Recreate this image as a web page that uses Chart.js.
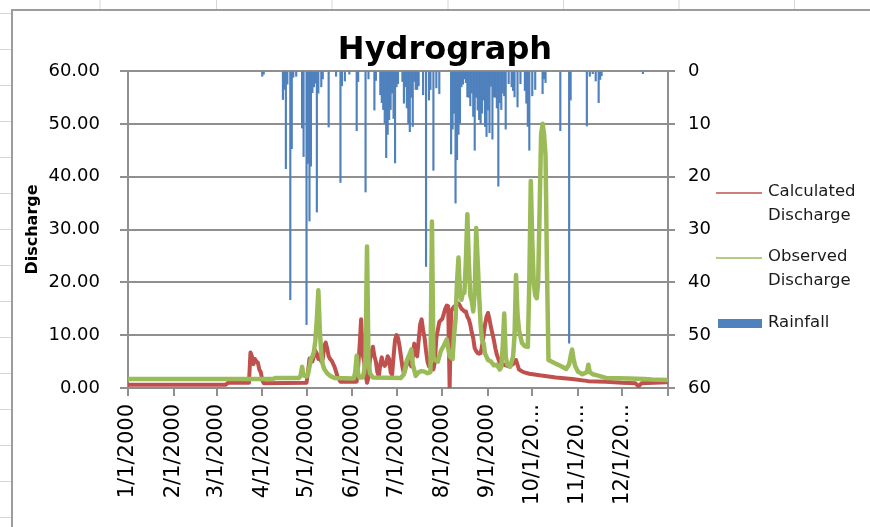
<!DOCTYPE html>
<html>
<head>
<meta charset="utf-8">
<title>Hydrograph</title>
<script src="https://cdn.jsdelivr.net/npm/chart.js@4.4.1/dist/chart.umd.min.js"></script>
<style>
  html, body { margin: 0; padding: 0; background: #ffffff; }
  #wrap { width: 870px; height: 527px; }
</style>
</head>
<body>
<div id="wrap"><canvas id="c" width="870" height="527"></canvas></div>
<script>
// Day-of-year positions (0 = 1 Jan 2000) where the month ticks fall
const monthDays = [0, 31, 60, 91, 121, 152, 182, 213, 244, 274, 305, 335, 366];
const monthLabels = ['1/1/2000', '2/1/2000', '3/1/2000', '4/1/2000', '5/1/2000', '6/1/2000',
  '7/1/2000', '8/1/2000', '9/1/2000', '10/1/20...', '11/1/20...', '12/1/20...', ''];

const dischargeTicks = [0, 10, 20, 30, 40, 50, 60];
const rainfallTicks = [0, 10, 20, 30, 40, 50, 60];

// Calculated discharge (day, value)
const calcDays = [0, 66, 68, 82, 83, 84, 85, 86, 87, 88, 89, 90, 91, 92, 121, 122, 123, 124, 125, 126,
  127, 128, 129, 130, 131, 132, 133, 134, 135, 136, 137, 138, 140, 142, 144, 155, 156, 157, 158, 159,
  160, 161, 162, 163, 164, 166, 167, 168, 169, 170, 171, 172, 173, 174, 175, 176, 177, 178, 179, 180,
  181, 182, 183, 184, 185, 186, 187, 188, 189, 190, 191, 192, 193, 194, 195, 196, 197, 198, 199, 200,
  201, 202, 203, 204, 205, 206, 207, 208, 209, 210, 211, 212, 213, 214, 215, 216, 217, 218, 219, 220,
  221, 222, 223, 224, 225, 226, 227, 228, 229, 230, 231, 232, 233, 234, 235, 236, 237, 238, 239, 240,
  241, 242, 243, 244, 245, 246, 247, 248, 249, 250, 251, 252, 254, 258, 261, 263, 265, 268, 272, 279,
  290, 301, 312, 324, 335, 344, 345, 346, 347, 348, 365];
const calcValues = [0.6, 0.6, 1.0, 1.0, 6.7, 6.0, 4.5, 5.5, 5.0, 4.8, 3.5, 3.0, 1.5, 0.9, 1.0, 3.0, 5.6, 5.5, 5.0, 6.0,
  7.0, 6.5, 5.5, 6.0, 5.0, 5.5, 8.0, 8.6, 7.5, 6.0, 5.5, 5.2, 4.0, 2.2, 1.2, 1.2, 4.0, 8.0, 13.0, 6.5,
  5.0, 2.5, 1.0, 2.0, 5.5, 7.8, 6.0, 5.0, 3.0, 2.2, 4.5, 5.8, 4.5, 4.2, 4.6, 6.0, 5.5, 3.0, 2.5, 6.0,
  9.1, 10.0, 9.5, 8.0, 6.0, 4.0, 2.7, 3.5, 5.0, 5.2, 4.5, 4.1, 6.0, 8.4, 6.5, 6.0, 9.0, 12.0, 13.0, 11.0,
  9.5, 7.0, 5.0, 4.1, 4.0, 4.1, 3.5, 5.0, 9.5, 11.0, 12.5, 12.8, 13.1, 14.0, 15.0, 15.6, 15.5, 0.0, 14.5, 15.0,
  15.4, 15.6, 15.8, 16.0, 15.6, 15.0, 14.8, 14.5, 14.5, 13.5, 13.0, 12.0, 10.5, 9.4, 7.5, 7.0, 6.6, 6.5, 6.6, 8.0,
  10.0, 12.0, 13.5, 14.2, 13.0, 11.5, 10.3, 9.0, 7.5, 6.3, 5.5, 4.8, 4.5, 4.1, 4.5, 5.3, 3.5, 3.0, 2.7, 2.4,
  2.0, 1.7, 1.3, 1.2, 1.0, 0.9, 0.6, 0.3, 0.6, 0.9, 1.1];

// Observed discharge (day, value)
const obsDays = [0, 98, 100, 116, 117, 118, 119, 121, 122, 123, 124, 125, 126, 127, 128, 129, 130, 131, 132, 133,
  135, 137, 140, 153, 154, 155, 156, 157, 159, 160, 161, 162, 163, 164, 166, 185, 187, 189, 191, 192,
  193, 195, 197, 199, 201, 203, 205, 206, 207, 208, 210, 212, 214, 216, 218, 220, 221, 222, 223, 224,
  225, 226, 227, 228, 229, 230, 231, 232, 233, 234, 235, 236, 237, 238, 239, 240, 241, 242, 244, 246,
  248, 250, 252, 253, 254, 255, 256, 257, 259, 261, 262, 263, 264, 265, 267, 269, 271, 272, 273, 274,
  275, 276, 277, 278, 279, 280, 281, 282, 283, 284, 285, 287, 290, 293, 297, 299, 300, 301, 302, 303,
  305, 308, 311, 312, 313, 315, 318, 324, 340, 350, 355, 365];
const obsValues = [1.7, 1.7, 1.9, 1.9, 2.4, 4.0, 2.4, 2.2, 2.6, 4.0, 5.5, 6.0, 6.8, 9.0, 13.0, 18.5, 11.0, 6.5, 4.5, 3.6,
  2.8, 2.3, 1.9, 1.8, 3.0, 6.1, 2.6, 2.0, 2.0, 3.0, 6.0, 26.8, 5.0, 2.8, 2.0, 1.9, 2.6, 5.2, 6.5, 7.3,
  4.5, 2.3, 3.0, 3.2, 3.1, 2.8, 3.0, 31.5, 6.0, 5.3, 5.0, 7.0, 8.0, 9.2, 6.0, 5.5, 10.0, 13.0, 20.0, 24.7,
  18.0, 16.7, 18.0, 18.0, 24.0, 32.9, 24.0, 17.5, 16.5, 14.5, 18.0, 30.3, 24.0, 17.5, 12.0, 9.0, 8.5, 6.5, 5.3, 5.0,
  4.3, 4.4, 3.5, 4.0, 8.0, 14.1, 6.0, 4.5, 4.0, 6.0, 10.0, 21.4, 14.0, 11.0, 8.5, 7.9, 7.8, 20.0, 39.2, 28.0,
  20.0, 17.5, 17.0, 20.0, 34.0, 48.0, 50.0, 48.0, 44.0, 22.0, 5.3, 5.0, 4.6, 4.2, 3.6, 4.5, 6.0, 7.3, 5.5, 4.2,
  3.1, 2.6, 3.0, 4.4, 3.0, 2.6, 2.4, 1.9, 1.8, 1.7, 1.6, 1.5];

// Daily rainfall on rain days (day, depth)
const rainDays = [91, 92, 105, 106, 107, 108, 110, 111, 112, 114, 118, 119, 121, 122, 123, 124, 125, 126, 127, 128,
  129, 131, 132, 136, 141, 144, 145, 147, 150, 155, 156, 161, 163, 167, 168, 171, 172, 173, 174, 175,
  176, 177, 178, 179, 180, 181, 182, 183, 186, 187, 188, 189, 190, 191, 192, 193, 194, 195, 196, 197,
  200, 202, 204, 205, 207, 209, 211, 219, 220, 221, 222, 223, 224, 225, 226, 227, 228, 229, 230, 231,
  232, 233, 234, 235, 236, 237, 238, 239, 240, 241, 242, 243, 244, 245, 246, 247, 248, 249, 250, 251,
  252, 253, 254, 255, 256, 258, 260, 261, 262, 264, 266, 269, 270, 271, 272, 274, 276, 281, 282, 283,
  293, 299, 300, 311, 313, 315, 317, 319, 320, 321, 349];
const rainValues = [1.0, 0.6, 5.4, 3.5, 18.5, 2.5, 43.3, 14.7, 1.2, 1.0, 10.8, 16.2, 48.0, 17.5, 28.4, 18.0, 4.1, 3.0, 2.3, 26.7,
  4.2, 3.0, 1.5, 10.6, 1.0, 21.1, 2.8, 1.9, 0.6, 11.3, 2.0, 22.9, 1.5, 7.4, 1.8, 4.5, 6.0, 7.3, 9.8, 16.4,
  12.0, 9.2, 7.3, 4.2, 9.0, 17.4, 3.0, 2.4, 2.0, 6.1, 3.0, 7.0, 9.9, 11.5, 5.0, 10.5, 2.0, 3.5, 3.5, 2.8,
  4.5, 37.0, 5.5, 3.5, 18.8, 3.2, 4.3, 15.7, 11.0, 8.0, 25.0, 16.8, 12.0, 9.8, 3.0, 2.5, 1.5, 2.2, 4.9, 5.0,
  6.6, 4.2, 8.6, 15.0, 5.0, 7.4, 9.2, 9.9, 8.0, 5.5, 10.5, 12.4, 7.4, 11.7, 2.9, 12.9, 4.9, 5.0, 7.0, 21.8,
  6.0, 7.3, 4.2, 4.7, 11.0, 2.4, 3.0, 3.7, 4.9, 6.8, 2.4, 3.7, 6.1, 10.5, 15.0, 4.7, 3.5, 4.3, 1.5, 2.2,
  11.3, 51.5, 5.5, 10.4, 1.0, 0.5, 1.9, 6.0, 1.6, 0.9, 0.5];

const toPoints = (days, values) => days.map((d, i) => ({ x: d, y: values[i] }));

const GRID = '#8f8f8f';
const FONT = 'DejaVu Sans';

// Worksheet frame behind the chart object
const sheetFrame = {
  id: 'sheetFrame',
  beforeDraw(chart) {
    const ctx = chart.ctx;
    ctx.save();
    ctx.fillStyle = '#ffffff';
    ctx.fillRect(0, 0, chart.width, chart.height);
    ctx.strokeStyle = '#d4d6d8';
    ctx.lineWidth = 1;
    [100, 216.5, 332, 448, 563.5, 679, 794.5].forEach(x => {
      ctx.beginPath(); ctx.moveTo(x, 0); ctx.lineTo(x, 10); ctx.stroke();
    });
    for (let y = 13; y < chart.height; y += 36) {
      ctx.beginPath(); ctx.moveTo(0, y + 0.5); ctx.lineTo(11, y + 0.5); ctx.stroke();
    }
    ctx.strokeStyle = '#9c9c9c';
    ctx.lineWidth = 2;
    ctx.beginPath();
    ctx.moveTo(12, chart.height);
    ctx.lineTo(12, 10);
    ctx.lineTo(chart.width, 10);
    ctx.stroke();
    ctx.restore();
  }
};

// Chart title and the legend at the right
const titleAndLegend = {
  id: 'titleAndLegend',
  afterDraw(chart) {
    const ctx = chart.ctx;
    ctx.save();
    ctx.fillStyle = '#000000';
    ctx.font = 'bold 32px "' + FONT + '"';
    ctx.textAlign = 'center';
    ctx.textBaseline = 'alphabetic';
    ctx.fillText('Hydrograph', 445, 59);

    ctx.font = '16.5px "' + FONT + '"';
    ctx.textAlign = 'left';
    ctx.textBaseline = 'middle';
    const ds = chart.data.datasets;
    const items = [
      { d: ds[1], y: 192, kind: 'line' },
      { d: ds[2], y: 257, kind: 'line' },
      { d: ds[0], y: 323, kind: 'box' }
    ];
    items.forEach(it => {
      if (it.kind === 'line') {
        ctx.strokeStyle = it.d.borderColor;
        ctx.lineWidth = 1.5;
        ctx.beginPath();
        ctx.moveTo(716, it.y + 1);
        ctx.lineTo(762, it.y + 1);
        ctx.stroke();
      } else {
        ctx.fillStyle = it.d.backgroundColor;
        ctx.fillRect(718, it.y - 4, 44, 9);
      }
      ctx.fillStyle = '#1a1a1a';
      it.d.label.split('\n').forEach((line, k) => {
        ctx.fillText(line, 768, it.y + k * 24);
      });
    });
    ctx.restore();
  }
};

new Chart(document.getElementById('c'), {
  data: {
    datasets: [
      {
        type: 'bar',
        label: 'Rainfall',
        data: toPoints(rainDays, rainValues),
        backgroundColor: '#4f81bd',
        borderWidth: 0,
        barThickness: 1.5,
        xAxisID: 'x',
        yAxisID: 'yR',
        order: 0
      },
      {
        type: 'line',
        label: 'Calculated\nDischarge',
        data: toPoints(calcDays, calcValues),
        borderColor: '#c0504d',
        backgroundColor: '#c0504d',
        borderWidth: 4,
        pointRadius: 0,
        tension: 0,
        borderJoinStyle: 'round',
        borderCapStyle: 'round',
        xAxisID: 'x',
        yAxisID: 'yL',
        order: 2
      },
      {
        type: 'line',
        label: 'Observed\nDischarge',
        data: toPoints(obsDays, obsValues),
        borderColor: '#9bbb59',
        backgroundColor: '#9bbb59',
        borderWidth: 4.5,
        pointRadius: 0,
        tension: 0,
        borderJoinStyle: 'round',
        borderCapStyle: 'round',
        xAxisID: 'x',
        yAxisID: 'yL',
        order: 1
      }
    ]
  },
  options: {
    responsive: false,
    devicePixelRatio: 1,
    animation: false,
    layout: { padding: { left: 23, top: 71, right: 0, bottom: 0 } },
    plugins: {
      legend: { display: false },
      title: { display: false },
      tooltip: { enabled: false }
    },
    scales: {
      x: {
        type: 'linear',
        position: 'bottom',
        offset: false,
        min: 0,
        max: 366,
        afterBuildTicks: s => { s.ticks = monthDays.map(v => ({ value: v })); },
        afterFit: s => { s.height = 139; },
        ticks: {
          autoSkip: false,
          minRotation: 90,
          maxRotation: 90,
          padding: 8,
          color: '#000000',
          font: { family: FONT, size: 21 },
          callback: (v, i) => monthLabels[i]
        },
        grid: { drawOnChartArea: false, offset: false, tickLength: 8, color: GRID, lineWidth: 2 },
        border: { display: true, color: GRID, width: 2 }
      },
      yL: {
        type: 'linear',
        position: 'left',
        min: 0,
        max: 60,
        afterBuildTicks: s => { s.ticks = dischargeTicks.map(v => ({ value: v })); },
        afterFit: s => { s.width = 105; },
        ticks: {
          padding: 20,
          color: '#000000',
          font: { family: FONT, size: 18 },
          callback: v => Number(v).toFixed(2)
        },
        title: {
          display: true,
          text: 'Discharge',
          color: '#000000',
          padding: { top: 0, bottom: 0 },
          font: { family: FONT, size: 16, weight: 'bold' }
        },
        grid: { color: GRID, lineWidth: 2, tickLength: 8 },
        border: { display: true, color: GRID, width: 2 }
      },
      yR: {
        type: 'linear',
        position: 'right',
        reverse: true,
        min: 0,
        max: 60,
        afterBuildTicks: s => { s.ticks = rainfallTicks.map(v => ({ value: v })); },
        afterFit: s => { s.width = 202; },
        ticks: {
          padding: 13,
          color: '#000000',
          font: { family: FONT, size: 18 }
        },
        grid: { drawOnChartArea: false, color: GRID, lineWidth: 2, tickLength: 7 },
        border: { display: true, color: GRID, width: 2 }
      }
    }
  },
  plugins: [sheetFrame, titleAndLegend]
});
</script>
</body>
</html>
